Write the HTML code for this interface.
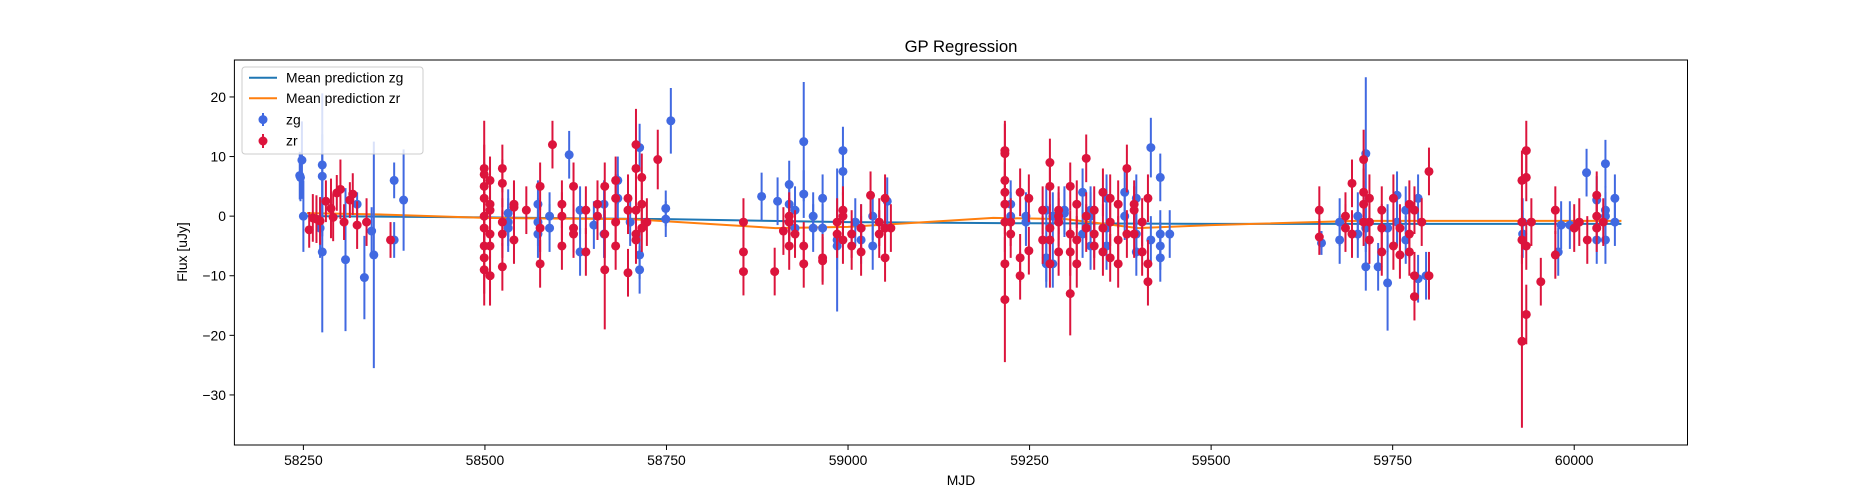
<!DOCTYPE html>
<html><head><meta charset="utf-8"><title>GP Regression</title>
<style>body{margin:0;background:#fff}svg{display:block;font-family:"Liberation Sans","DejaVu Sans",sans-serif}</style>
</head><body>
<svg id="chart" width="1875" height="500" viewBox="0 0 1875 500" xmlns="http://www.w3.org/2000/svg">
<rect width="1875" height="500" fill="#fff"/>
<text x="961" y="52" font-size="16.7" text-anchor="middle" fill="#000">GP Regression</text>
<g id="axes"></g>
<g id="lines"></g>
<g id="pts"></g>
<rect x="234.4" y="60" width="1453.1" height="385" fill="none" stroke="#000" stroke-width="1"/>
<text x="961" y="485" font-size="13.9" text-anchor="middle">MJD</text>
<text transform="translate(187,252) rotate(-90)" font-size="13.9" text-anchor="middle">Flux [uJy]</text>
<g>
<rect x="242" y="67" width="181" height="87" rx="3" fill="#fff" fill-opacity="0.8" stroke="#ccc"/>
<line x1="249" y1="77.7" x2="277" y2="77.7" stroke="#1f77b4" stroke-width="2"/>
<text x="286" y="82.5" font-size="13.9">Mean prediction zg</text>
<line x1="249" y1="98.3" x2="277" y2="98.3" stroke="#ff7f0e" stroke-width="2"/>
<text x="286" y="103" font-size="13.9">Mean prediction zr</text>
<line x1="263" y1="113" x2="263" y2="126" stroke="#4169E1" stroke-width="2"/>
<circle cx="263" cy="119.6" r="4.5" fill="#4169E1"/>
<text x="286" y="124.5" font-size="13.9">zg</text>
<line x1="263" y1="134" x2="263" y2="148" stroke="#DC143C" stroke-width="2"/>
<circle cx="263" cy="141" r="4.5" fill="#DC143C"/>
<text x="286" y="145.7" font-size="13.9">zr</text>
</g>
</svg>
<script>
const xTicks=[58250,58500,58750,59000,59250,59500,59750,60000];
const yTicks=[20,10,0,-10,-20,-30];
// zg: [mjd, flux, err]
const zgMjd=[58245,58246,58248,58250,58276,58276,58273,58276,58308,58324,58334,58344,58347,58375,58375,58388,
58532,58532,58532,58573,58573,58573,58589,58589,58616,58631,58631,58650,58664,58664,58683,58683,58700,58713,58713,58713,58749,58749,58756,
58881,58903,58919,58919,58919,58927,58927,58939,58939,58952,58952,58965,58965,58985,58985,58993,58993,59010,59018,59018,59034,59034,59054,
59224,59224,59245,59245,59273,59273,59273,59282,59282,59298,59298,59323,59323,59334,59334,59334,59356,59356,59356,59381,59381,59397,59397,59397,59417,59417,59430,59430,59430,59430,59443,
59652,59677,59677,59702,59702,59713,59713,59713,59730,59743,59743,59756,59756,59768,59768,59785,59785,59796,
59929,59929,59978,59982,59994,60017,60031,60031,60043,60043,60043,60043,60056,60056];
const zgFlux=[6.8,6.5,9.4,0,8.6,6.7,-2,-6,-7.3,2,-10.3,-2.5,-6.5,6,-4,2.7,
0.5,-1,-2,2,-1,-3,-2,0,10.3,-6,1,-1.5,2,-3,6,3,-1,-9,-6.5,11.5,1.3,-0.5,16,
3.3,2.5,5.3,2,-1,1,-2,12.5,3.7,-2,0,3,-2,-4,-5,11,7.5,-1,-4,-2,0,-5,2.5,
2,0,-1,0,1,-7,-8,0,-8,0.5,1,4,-3,1,0,-5,3,-2,-5,4,0,3,-3,-6,11.5,-4,6.5,-3,-7,-5,-3,
-4.5,-4,-1,-3,0,10.5,-8.5,-2,-8.5,-11.2,-2,3.5,-1,1,-4,3,-10.5,-10,
-3,-1,-6,-1.5,-1.5,7.3,2.7,-4,8.8,0,-4,1,3,-1];
const zgErr=[4,4,6.5,6,12,7,5,13.5,12,2,7,4,19,3,3,8.5,
4,4,4,4,4,4,4,4,4,4,4,4,4,4,4,4,4,4,4,4,3,3,5.5,
4,4,4,4,4,4,4,10,4,4,4,4,4,12,4,4,4,4,4,4,4,4,4,
4,4,4,4,4,4,4,4,4,4,4,4,4,4,4,4,4,4,4,4,4,4,4,4,5,4,4,4,4,4,4,
2,4,4,4,4,12.8,4,4,4,8,4,4,4,4,4,4,4,4,
4,4,4,4,4,4,4,4,4,4,4,4,4,4];
const zrMjd=[58258,58263,58268,58273,58281,58288,58291,58296,58301,58306,58314,58318,58324,58337,58370,
58499,58499,58499,58499,58499,58499,58499,58499,58499,58507,58507,58507,58507,58507,58507,58507,58524,58524,58524,58524,58524,58540,58540,58540,58557,58576,58576,58576,58593,58606,58606,58606,58622,58622,58622,58639,58639,58655,58655,58665,58665,58665,58680,58680,58680,58680,58697,58697,58697,58708,58708,58708,58708,58708,58716,58716,58716,58723,58738,
58856,58856,58856,58899,58911,58919,58919,58919,58927,58939,58939,58965,58965,58985,58985,58993,58993,58993,59005,59005,59018,59018,59031,59043,59043,59051,59051,59051,59059,
59216,59216,59216,59216,59216,59216,59216,59216,59224,59224,59237,59237,59237,59249,59249,59268,59268,59278,59278,59278,59278,59278,59290,59290,59290,59290,59306,59306,59306,59306,59315,59315,59315,59328,59328,59328,59339,59339,59339,59351,59351,59351,59361,59361,59361,59372,59372,59372,59384,59384,59394,59394,59394,59405,59405,59413,59413,59413,
59649,59649,59685,59685,59694,59694,59710,59710,59710,59710,59718,59718,59718,59735,59735,59735,59751,59751,59760,59760,59773,59773,59773,59780,59780,59780,59790,59800,59800,
59928,59928,59928,59928,59934,59934,59934,59934,59941,59954,59974,59974,60000,60007,60018,60031,60031,60031,60040];
const zrFlux=[-2.3,-0.3,-0.5,-0.8,2.5,1.3,-0.2,3.9,4.5,-1,2.7,3.7,-1.5,-1,-4,
3,-2,7,8,-7,-9,-5,5,0,-10,-5,2,-3,-10,1,6,8,-8.5,5.5,-1,-3,-4,2,1.5,1,-8,5,-2,12,-5,2,0,-3,5,-2,-6,1,0,2,-9,-3,5,6,3,-1,-5,1,-9.5,3,8,-3,-4,1,12,6.5,2,-2,-1,9.5,
-1,-6,-9.3,-9.3,-2.5,-1,-5,0,-3,-8,-5,-7,-7.5,-3,-1,0,1,-4,-5,-3,-2,-6,3.5,-1,-3,-2,3,-7,-2,
10.5,11,6,4,2,-1,-14,-8,-1,-3,-10,-7,4,3,-5.8,-4,1,9,5,-2,-4,-8,-6,0,-1,1,5,-3,-13,-6,2,-4,-8,9.7,-2,0,-3,-5,1,4,-6,-2,3,-1,-7,2,-4,-8,8,-3,2,1,-3,-6,-1,3,-11,-8,
1,-3.5,0,-2,5.5,-3,4,9.5,2,-1,3,-4,-1,1,-2,-6,3,-5,-2,-6.5,2,-3,-6,-10,-13.5,1,-1,7.5,-10,
-21,6,-4,-1,11,-5,-16.5,6.5,-1,-11,-6.5,1,-2,-1,-4,0,3.5,-2,-1];
const zrErr=[3,4,4,4,3.5,5,4,3,5,3,3,3.5,4,4,3,
4,4,5,8,6,6,5,4,4,5,5,4,4,5,4,4,4,4,4,4,4,4,4,4,4,4,4,4,4,4,4,4,4,4,4,4,4,4,4,10,4,4,4,4,4,4,4,4,4,4,4,4,4,6,4,4,4,4,5,
4,4,4,4,4,4,4,4,4,4,4,4,4,4,4,4,4,4,4,4,4,4,4,4,4,4,4,4,4,
5,5,5,5,5,5,10.5,6,4,4,4,4,4,4,4,4,4,4,4,4,4,4,4,4,4,4,4,4,7,4,4,4,4,4,4,4,4,4,4,4,4,4,4,4,4,4,4,4,4,4,4,4,4,4,4,4,4,4,
4,3,4,4,4,4,4,5,4,4,4,4,4,4,4,4,4,4,4,4,4,4,4,4,4,4,4,4,4,
14.5,5,4,4,5,4,5,4,4,4,4,4,4,4,4,4,4,4,4];
const zgLineMjd=[58255,58500,58750,59000,59250,59500,59750,60065];
const zgLineFlux=[0,-0.2,-0.5,-1,-1.2,-1.3,-1.3,-1.3];
const zrLineMjd=[58255,58350,58500,58700,58900,59000,59200,59300,59400,59500,59700,59900,60065];
const zrLineFlux=[0.5,0.3,-0.3,-0.5,-2,-1.8,-0.3,-0.5,-2,-1.5,-0.8,-0.8,-0.8];

const X0=234.4,X1=1687.5,Y0=445,Y1=60,xMin=58155,xMax=60156,yMin=-38.4,yMax=26.2;
const sx=v=>X0+(v-xMin)/(xMax-xMin)*(X1-X0);
const sy=v=>Y0-(v-yMin)/(yMax-yMin)*(Y0-Y1);
const NS='http://www.w3.org/2000/svg';
function mk(tag,attrs,parent){const e=document.createElementNS(NS,tag);for(const k in attrs)e.setAttribute(k,attrs[k]);parent.appendChild(e);return e;}
const axes=document.getElementById('axes');
xTicks.forEach(t=>{
  const l=mk('line',{x1:sx(t),x2:sx(t),y1:445,y2:450,stroke:'#000'},axes);
  
  
  const tx=mk('text',{x:sx(t),y:465,'font-size':13.9,'text-anchor':'middle'},axes);
  tx.textContent=t;
  
  
});
yTicks.forEach(t=>{
  const l=mk('line',{x1:229.5,x2:234.4,y1:sy(t),y2:sy(t),stroke:'#000'},axes);
  
  
  const tx=mk('text',{x:226,y:sy(t)+5,'font-size':13.9,'text-anchor':'end'},axes);
  tx.textContent=t<0?'\u2212'+(-t):t;
  
  
});
const lines=document.getElementById('lines');
function drawLine(m,f,c,name){
  const p=mk('polyline',{points:m.map((v,i)=>sx(v)+','+sy(f[i])).join(' '),fill:'none',stroke:c,'stroke-width':2},lines);
  
  
}
drawLine(zgLineMjd,zgLineFlux,'#1f77b4','mean-line-zg');
drawLine(zrLineMjd,zrLineFlux,'#ff7f0e','mean-line-zr');
const pts=document.getElementById('pts');
function drawPts(m,f,e,c,name){
  m.forEach((v,i)=>{
    const g=mk('g',{},pts);
    
    
    mk('line',{x1:sx(v),x2:sx(v),y1:sy(f[i]+e[i]),y2:sy(f[i]-e[i]),stroke:c,'stroke-width':2},g);
    mk('circle',{cx:sx(v),cy:sy(f[i]),r:4.5,fill:c},g);
  });
}
drawPts(zgMjd,zgFlux,zgErr,'#4169E1','zg-point');
drawPts(zrMjd,zrFlux,zrErr,'#DC143C','zr-point');
</script>
</body></html>
